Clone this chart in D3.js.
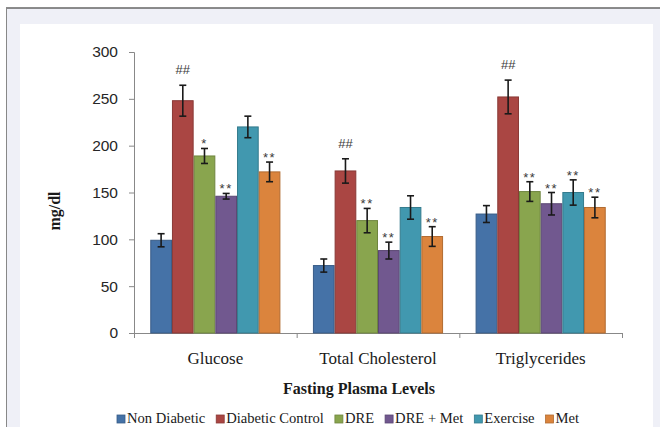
<!DOCTYPE html>
<html>
<head>
<meta charset="utf-8">
<script src="https://cdn.jsdelivr.net/npm/d3@7"></script>
<style>
  html, body { margin: 0; padding: 0; background: #ffffff; }
  svg { display: block; }
</style>
</head>
<body>
<svg id="chart" width="660" height="427"></svg>
<script>
// Fasting plasma levels (mg/dl), mean ± error, per treatment group
const categories = ["Glucose", "Total Cholesterol", "Triglycerides"];
const groups = ["Non Diabetic", "Diabetic Control", "DRE", "DRE + Met", "Exercise", "Met"];
const colors = ["#4572a7", "#aa4643", "#89a54e", "#71588f", "#4198af", "#db843d"];

const glucoseMean = [99, 248, 189, 146, 220, 172];
const glucoseErr  = [7, 16.5, 8, 3, 11.5, 10.5];
const cholMean    = [72, 173, 120, 88, 134, 103];
const cholErr     = [7, 13, 13, 9, 12.5, 10.5];
const trigMean    = [127, 252, 151, 138, 150, 134];
const trigErr     = [9, 18, 10.5, 12, 13.5, 11];

const glucoseSig = ["", "##", "*", "**", "", "**"];
const cholSig    = ["", "##", "**", "**", "", "**"];
const trigSig    = ["", "##", "**", "**", "**", "**"];

const yTicks = [0, 50, 100, 150, 200, 250, 300];

const means = [glucoseMean, cholMean, trigMean];
const errs = [glucoseErr, cholErr, trigErr];
const sigs = [glucoseSig, cholSig, trigSig];

const rows = categories.map((c, i) => ({
  category: c,
  bars: groups.map((g, j) => ({ group: g, idx: j, value: means[i][j], err: errs[i][j], sig: sigs[i][j] }))
}));

const svg = d3.select("#chart");
const serif = "'Liberation Serif', 'Times New Roman', serif";

// page frame: grey rules, lavender border, white chart area
svg.append("rect").attr("x", 6).attr("y", 8).attr("width", 654).attr("height", 419).attr("fill", "#eff0f7");
svg.append("rect").attr("x", 20).attr("y", 24).attr("width", 633).attr("height", 403).attr("fill", "#ffffff");
svg.append("line").attr("x1", 6).attr("x2", 660).attr("y1", 8).attr("y2", 8).attr("stroke", "#666").attr("stroke-width", 1.5);
svg.append("line").attr("x1", 6.5).attr("x2", 6.5).attr("y1", 8).attr("y2", 427).attr("stroke", "#888").attr("stroke-width", 1);

const plot = { left: 134, right: 622, top: 52, bottom: 333 };

const x0 = d3.scaleBand().domain(categories).range([plot.left, plot.right]).padding(0);
const x1 = d3.scaleBand().domain(groups).range([0, x0.bandwidth()]).paddingInner(0).paddingOuter(0.75);
const y = d3.scaleLinear().domain([0, 300]).range([plot.bottom, plot.top]);
const color = d3.scaleOrdinal().domain(groups).range(colors);

// y axis
const yAxis = svg.append("g")
  .attr("transform", `translate(${plot.left},0)`)
  .call(d3.axisLeft(y).tickValues(yTicks).tickSize(5).tickPadding(11));
yAxis.select(".domain").attr("stroke", "#888");
yAxis.selectAll(".tick line").attr("stroke", "#888");
yAxis.selectAll(".tick text")
  .attr("font-family", "'Liberation Sans', Arial, sans-serif")
  .attr("font-size", 15.5)
  .attr("fill", "#262626");

// x axis with ticks on category boundaries
const xg = svg.append("g");
xg.append("line")
  .attr("x1", plot.left - 5).attr("x2", plot.right)
  .attr("y1", plot.bottom + 0.5).attr("y2", plot.bottom + 0.5)
  .attr("stroke", "#888");
const boundaries = categories.map(c => x0(c)).concat([x0(categories[categories.length - 1]) + x0.bandwidth()]);
xg.selectAll("line.tk").data(boundaries).join("line")
  .attr("class", "tk")
  .attr("x1", d => d + 0.5).attr("x2", d => d + 0.5)
  .attr("y1", plot.bottom).attr("y2", plot.bottom + 5)
  .attr("stroke", "#888");
xg.selectAll("text").data(categories).join("text")
  .attr("x", d => x0(d) + x0.bandwidth() / 2)
  .attr("y", 364)
  .attr("text-anchor", "middle")
  .attr("font-family", serif)
  .attr("font-size", 17)
  .attr("fill", "#1a1a1a")
  .text(d => d);

// bars
const catG = svg.append("g").selectAll("g").data(rows).join("g")
  .attr("transform", d => `translate(${x0(d.category)},0)`);

catG.selectAll("rect").data(d => d.bars).join("rect")
  .attr("x", d => x1(d.group) + 0.5)
  .attr("y", d => y(d.value))
  .attr("width", x1.bandwidth() - 1)
  .attr("height", d => y(0) - y(d.value))
  .attr("fill", d => color(d.group))
  .attr("stroke", d => d3.color(color(d.group)).darker(0.6))
  .attr("stroke-width", 1);

// error bars
const eb = catG.selectAll("g.err").data(d => d.bars).join("g").attr("class", "err")
  .attr("transform", d => `translate(${x1(d.group) + x1.bandwidth() / 2},0)`);
eb.append("line")
  .attr("x1", 0).attr("x2", 0)
  .attr("y1", d => y(d.value + d.err)).attr("y2", d => y(d.value - d.err))
  .attr("stroke", "#1a1a1a").attr("stroke-width", 1.6);
eb.append("line")
  .attr("x1", -3.5).attr("x2", 3.5)
  .attr("y1", d => y(d.value + d.err)).attr("y2", d => y(d.value + d.err))
  .attr("stroke", "#1a1a1a").attr("stroke-width", 1.6);
eb.append("line")
  .attr("x1", -3.5).attr("x2", 3.5)
  .attr("y1", d => y(d.value - d.err)).attr("y2", d => y(d.value - d.err))
  .attr("stroke", "#1a1a1a").attr("stroke-width", 1.6);

// significance marks
catG.selectAll("text.sig").data(d => d.bars.filter(b => b.sig)).join("text")
  .attr("class", "sig")
  .attr("x", d => x1(d.group) + x1.bandwidth() / 2)
  .attr("y", d => y(d.value + d.err) - (d.sig.startsWith("#") ? 11 : 0))
  .attr("text-anchor", "middle")
  .attr("font-family", "'Liberation Sans', Arial, sans-serif")
  .attr("font-size", 13)
  .attr("letter-spacing", d => d.sig.startsWith("*") ? 1.5 : 0)
  .attr("fill", "#3a3a3a")
  .text(d => d.sig);

// axis titles
svg.append("text")
  .attr("transform", "translate(60,211) rotate(-90)")
  .attr("text-anchor", "middle")
  .attr("font-family", serif)
  .attr("font-weight", "bold")
  .attr("font-size", 16)
  .attr("fill", "#1a1a1a")
  .text("mg/dl");

svg.append("text")
  .attr("x", 359).attr("y", 394)
  .attr("text-anchor", "middle")
  .attr("font-family", serif)
  .attr("font-weight", "bold")
  .attr("font-size", 16)
  .attr("fill", "#1a1a1a")
  .text("Fasting Plasma Levels");

// legend
const legend = svg.append("g");
let lx = 117;
groups.forEach((g, i) => {
  const item = legend.append("g");
  item.append("rect")
    .attr("x", lx).attr("y", 415).attr("width", 8).attr("height", 8)
    .attr("fill", colors[i])
    .attr("stroke", d3.color(colors[i]).darker(0.6)).attr("stroke-width", 0.8);
  const t = item.append("text")
    .attr("x", lx + 10).attr("y", 423)
    .attr("font-family", serif)
    .attr("font-size", 14.6)
    .attr("fill", "#1a1a1a")
    .text(g);
  lx += 10 + t.node().getComputedTextLength() + 11;
});
</script>
</body>
</html>
